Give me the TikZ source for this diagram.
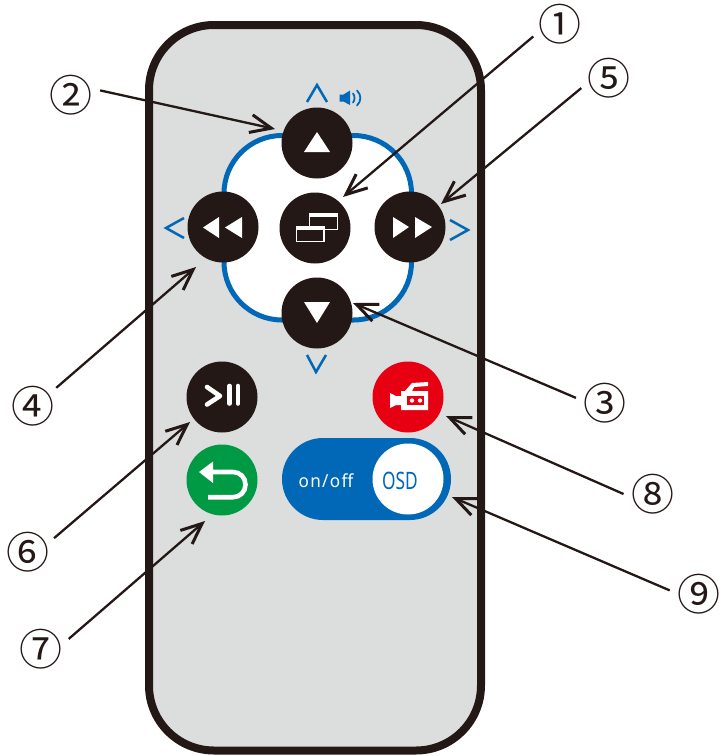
\documentclass[tikz,border=0pt]{standalone}
\usepackage{fontspec}
\usetikzlibrary{arrows.meta}
\newfontfamily\numfont{Noto Sans CJK JP}
\newfontfamily\labfont[LetterSpace=8]{Noto Sans}
\newfontfamily\osdfont{Noto Sans}
\definecolor{ink}{HTML}{231815}
\definecolor{shell}{HTML}{DCDDDD}
\definecolor{bblue}{HTML}{0068B7}
\definecolor{bred}{HTML}{E60012}
\definecolor{bgreen}{HTML}{009944}
\tikzset{
  x=1pt,y=-1pt,
  btn/.style={circle,draw=none,fill=ink,minimum size=71pt,inner sep=0pt},
  num/.style={circle,minimum size=54pt,inner sep=0pt,text=ink,font=\numfont\fontsize{43}{43}\selectfont},
  lead/.style={draw=ink,line width=2.3pt,-{Straight Barb[length=21pt,width=18pt,line width=3pt]}},
  chev/.style={draw=bblue,line width=2.5pt,line join=miter},
  ico/.style={fill=white,draw=none},
}
\begin{document}
\begin{tikzpicture}
\useasboundingbox (0,0) rectangle (728,756);
% body
\draw[draw=ink,fill=shell,line width=8pt,rounded corners=65pt] (149,25) rectangle (481,750.5);
% pad
\draw[draw=bblue,fill=white,line width=5pt,rounded corners=58pt] (224,135.5) rectangle (411.5,320);
% chevrons
\draw[chev] (307,102) -- (317,85) -- (327,102);
\draw[chev] (184,218) -- (166,228) -- (184,238);
\draw[chev] (450,220) -- (468,230) -- (450,240);
\draw[chev] (307,355) -- (316,372) -- (326,355);
% speaker
\fill[bblue] (339.5,94.5) -- (343.5,94.5) -- (350,90.5) -- (350,105) -- (343.5,101.5) -- (339.5,101.5) -- cycle;
\draw[bblue,line width=1.8pt,line cap=round] (353,93.5) .. controls (355,96) and (355,100) .. (353,102.5);
\draw[bblue,line width=1.8pt,line cap=round] (357,90.5) .. controls (361.5,95) and (361.5,101) .. (357,105.5);
% buttons
\node[btn] (up) at (317,143) {};
\node[btn] (center) at (315,228) {};
\node[btn] (left) at (223,227) {};
\node[btn] (right) at (410,227) {};
\node[btn] (down) at (317,313) {};
\node[btn] (play) at (222,397) {};
\node[btn,fill=bred] (rec) at (408,397) {};
\node[btn,fill=bgreen] (back) at (222,480) {};
% pill
\draw[fill=bblue,draw=none,rounded corners=41pt] (282,438) rectangle (451,520);
\node[btn,fill=white] (osd) at (408,479) {};
\node[text=white,font=\labfont\fontsize{18}{18}\selectfont,xscale=0.95,inner sep=0pt] (onoff) at (326,481) {on/off};
\node[text=bblue,font=\osdfont\fontsize{24}{24}\selectfont,xscale=0.72,inner sep=0pt] (osdt) at (400,481) {OSD};
% icons
\fill[ico] (317,132) -- (330,152) -- (304,152) -- cycle;
\fill[ico] (317,323) -- (330,302) -- (304,302) -- cycle;
\fill[ico] (393,217) -- (409,227) -- (393,238) -- cycle;
\fill[ico] (415,217) -- (432,227) -- (415,238) -- cycle;
\fill[ico] (203,227.5) -- (219,217) -- (219,238) -- cycle;
\fill[ico] (225,227.5) -- (242,217) -- (242,238) -- cycle;
% windows icon
\draw[white,line width=1.8pt,fill=ink] (309.5,213.5) rectangle (337.5,229.5);
\fill[white] (309,213) rectangle (338,216.5);
\draw[white,line width=1.8pt,fill=ink] (296.5,226.5) rectangle (324,241.5);
\fill[white] (296,226) rectangle (324.5,230);
% play pause
\draw[white,line width=4.6pt,line cap=round,line join=round] (207,387) -- (220,396) -- (207,404.5);
\draw[white,line width=4.6pt,line cap=round] (229.5,386) -- (229.5,403.5);
\draw[white,line width=4.6pt,line cap=round] (238,386) -- (238,403.5);
% back arrow
\fill[ico] (199,472) -- (213,461.5) -- (213,483) -- cycle;
\draw[white,line width=4.6pt] (212,472) -- (233,472) .. controls (240,472) and (245.5,477.5) .. (245.5,484.6) .. controls (245.5,491.7) and (240,497.2) .. (233,497.2) -- (208,497.2);
% camera
\fill[ico] (390,393) -- (396,396) -- (401,396) -- (401,391) -- (405,391) -- (412,383) -- (428,382) -- (428,386) -- (414,387) -- (412,391) -- (428,391) -- (428,410) -- (401,410) -- (401,405) -- (396,405) -- (390,408) -- cycle;
\fill[bred] (407,396) rectangle (424,405);
\fill[ico] (412,400.5) circle[radius=2.2pt];
\fill[ico] (420,400.5) circle[radius=2.2pt];
% labels
\node[num] (n1) at (560,24) {①};
\node[num] (n2) at (71,95) {②};
\node[num] (n3) at (605,403) {③};
\node[num] (n4) at (33,406) {④};
\node[num] (n5) at (609,78) {⑤};
\node[num] (n6) at (28,552) {⑥};
\node[num] (n7) at (41,649) {⑦};
\node[num] (n8) at (653,494) {⑧};
\node[num] (n9) at (699,594) {⑨};
% tips
\coordinate (t1) at (343,197);
\coordinate (t2) at (275,129);
\coordinate (t3) at (353,303);
\coordinate (t4) at (196,267);
\coordinate (t5) at (441,204);
\coordinate (t6) at (190,422);
\coordinate (t7) at (205,521);
\coordinate (t8) at (446,416);
\coordinate (t9) at (452,497);
\draw[lead] (n1.205) -- (t1);
\draw[lead] (n2.9) -- (t2);
\draw[lead] (n3.170) -- (t3);
\draw[lead] (n4.38) -- (t4);
\draw[lead] (n5.200) -- (t5);
\draw[lead] (n6.28) -- (t6);
\draw[lead] (n7.20) -- (t7);
\draw[lead] (n8.180) -- (t8);
\draw[lead] (n9.173) -- (t9);
\end{tikzpicture}
\end{document}
